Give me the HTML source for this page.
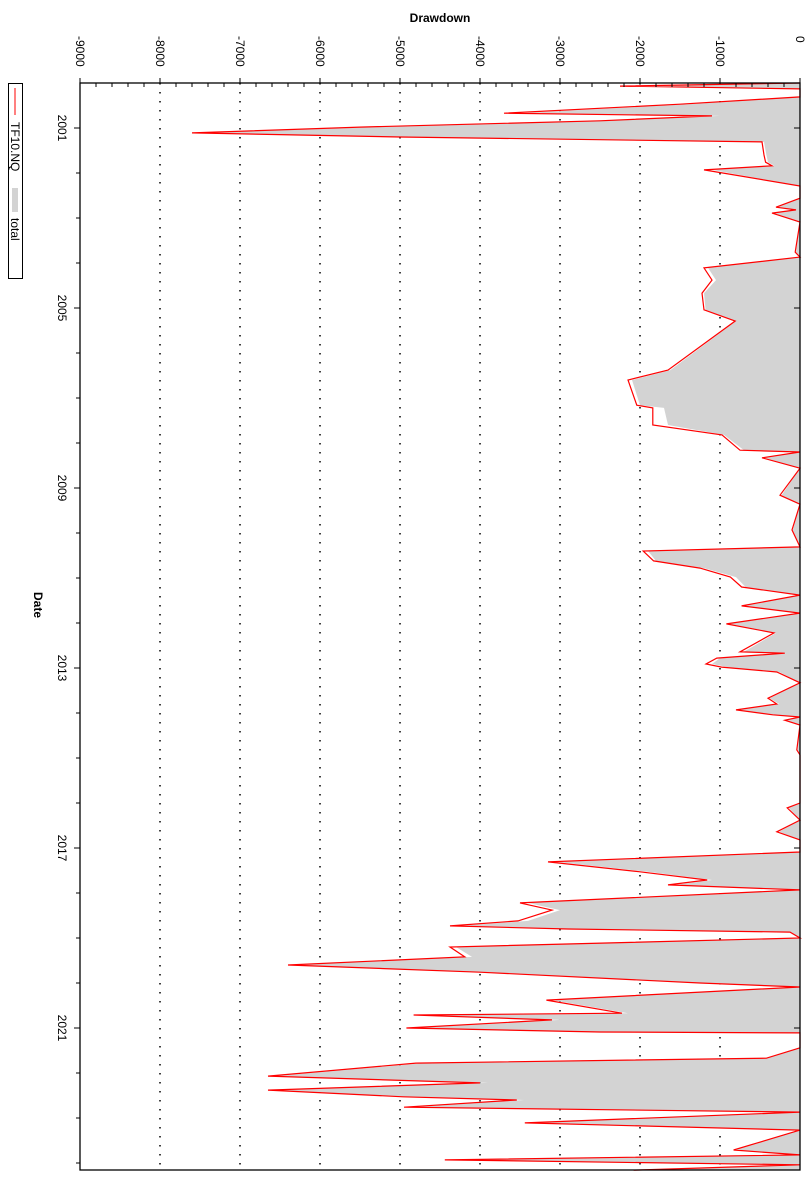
<!DOCTYPE html>
<html><head><meta charset="utf-8"><style>
html,body{margin:0;padding:0;background:#fff;}
svg{display:block;font-family:"Liberation Sans",sans-serif;}
</style></head><body>
<svg id="chart" width="812" height="1200" viewBox="0 0 812 1200" xmlns="http://www.w3.org/2000/svg">
<g id="grid"></g>
<g id="series"></g>
<g id="axes"></g>
<text x="440" y="22" text-anchor="middle" font-size="12" font-weight="bold">Drawdown</text>
<text transform="translate(34,605) rotate(90)" text-anchor="middle" font-size="12" font-weight="bold">Date</text>
<g>
<rect x="8.5" y="83.5" width="14" height="195" fill="#fff" stroke="#000" stroke-width="1"/>
<line x1="15" y1="88" x2="15" y2="115" stroke="#f00" stroke-width="1"/>
<text transform="translate(11,122) rotate(90)" font-size="12" fill="#000">TF10.NQ</text>
<rect x="12" y="188" width="6" height="24" fill="#d3d3d3"/>
<text transform="translate(11,218) rotate(90)" font-size="12" fill="#000">total</text>
</g>
</svg>
<script>
const dates = [2000.00,2000.07,2000.13,2000.31,2000.47,2000.67,2000.73,2000.84,2000.98,2001.11,2001.20,2001.31,2001.60,2001.76,2001.84,2001.93,2002.29,2002.56,2002.76,2002.82,2002.89,2003.09,2003.76,2003.87,2004.11,2004.38,2004.67,2005.04,2005.29,2006.38,2006.60,2007.16,2007.22,2007.60,2007.82,2008.16,2008.20,2008.33,2008.56,2009.16,2009.36,2009.93,2010.31,2010.40,2010.62,2010.78,2010.98,2011.20,2011.38,2011.62,2011.78,2012.02,2012.22,2012.64,2012.67,2012.78,2012.91,2012.98,2013.09,2013.33,2013.67,2013.80,2013.93,2014.04,2014.09,2014.16,2014.27,2014.82,2014.93,2016.00,2016.11,2016.38,2016.64,2016.82,2017.09,2017.31,2017.53,2017.71,2017.82,2017.93,2018.22,2018.38,2018.62,2018.73,2018.80,2018.87,2019.00,2019.20,2019.42,2019.60,2019.76,2020.00,2020.09,2020.38,2020.67,2020.71,2020.82,2021.00,2021.09,2021.11,2021.44,2021.67,2021.78,2022.07,2022.22,2022.38,2022.53,2022.60,2022.76,2022.87,2023.11,2023.27,2023.71,2023.82,2023.93,2024.04,2024.16];
const tf10nq = [0,-2250,0,0,-1500,-3700,-1100,-2500,-5500,-7600,-5000,-475,-450,-430,-350,-1200,0,0,-300,-50,-350,0,-60,0,-1200,-1100,-1225,-1200,-810,-1650,-2150,-2040,-1840,-1840,-975,-750,0,-475,0,-250,0,-100,0,-1960,-1830,-1250,-870,-730,0,-730,0,-920,-325,-750,-190,-1040,-1175,-980,-290,0,-400,-290,-800,-340,0,-190,0,-40,0,0,-160,0,-290,0,0,-3150,-2000,-1160,-1650,0,-3500,-3100,-3525,-4375,-2900,-125,0,-4375,-4190,-6400,-4000,-1250,0,-3170,-2225,-4830,-3100,-4920,-2500,0,0,-420,-4800,-6650,-4000,-6650,-4960,-3540,-4950,0,-3440,0,-830,0,-4440,0,-2080];
const total = [0,-2100,0,0,-1400,-3500,-1000,-2400,-5300,-7500,-4800,-450,-420,-400,-320,-1100,0,0,-280,-40,-320,0,-50,0,-1150,-1050,-1200,-1180,-800,-1620,-2100,-2000,-1700,-1650,-950,-700,0,-440,0,-230,0,-90,0,-1900,-1800,-1200,-800,-680,0,-700,0,-880,-300,-700,-170,-1000,-1100,-900,-260,0,-380,-260,-750,-310,0,-170,0,-30,0,0,-140,0,-260,0,0,-3050,-1900,-1100,-1550,0,-3400,-3000,-3400,-4250,-2800,-110,0,-4300,-4100,-6300,-3900,-1200,0,-3100,-2150,-4750,-3000,-4850,-2400,0,0,-400,-4700,-6550,-3900,-6550,-4900,-3450,-4850,0,-3350,0,-800,0,-4350,0,-2000];
const xTicks = [0,-1000,-2000,-3000,-4000,-5000,-6000,-7000,-8000,-9000];
const yearLabels = [2001,2005,2009,2013,2017,2021];
const NS = "http://www.w3.org/2000/svg";
const L = 80, R = 800, T = 83, B = 1170;
function xs(v){ return R + (v/9000)*(R-L); }
function ys(yr){ return 128 + (yr-2001)*45; }
function mk(tag, attrs, parent){ const e=document.createElementNS(NS,tag); for(const k in attrs) e.setAttribute(k,attrs[k]); parent.appendChild(e); return e; }
const grid=document.getElementById('grid'), ser=document.getElementById('series'), ax=document.getElementById('axes');
xTicks.forEach(v=>{
  if(v===0||v===-9000) return;
  const g=mk('line',{x1:xs(v),x2:xs(v),y1:T,y2:B,stroke:'#000','stroke-width':1.5,'stroke-dasharray':'1.5,7.5'},grid);
  
  
});
let d='M'+xs(0)+','+ys(dates[0]);
dates.forEach((t,i)=>{ d+=' L'+xs(total[i]).toFixed(1)+','+ys(t).toFixed(1); });
d+=' L'+xs(0)+','+ys(dates[dates.length-1]).toFixed(1)+' Z';
const area=mk('path',{d:d,fill:'#d3d3d3',stroke:'none'},ser);


let d2='';
dates.forEach((t,i)=>{ d2+=(i?' L':'M')+xs(tf10nq[i]).toFixed(1)+','+ys(t).toFixed(1); });
const line=mk('path',{d:d2,fill:'none',stroke:'#f00','stroke-width':1.2},ser);


const fr=mk('rect',{x:L,y:T,width:R-L,height:B-T,fill:'none',stroke:'#000','stroke-width':1.3},ax);


for(let v=0; v>=-9000; v-=200){
  const major = v%1000===0;
  const t=mk('line',{x1:xs(v),x2:xs(v),y1:major?T-5:T,y2:major?T:T+4,stroke:'#000','stroke-width':1},ax);
  
  
}
xTicks.forEach(v=>{
  const tx=mk('text',{transform:'translate('+(xs(v)-4)+',36) rotate(90)','font-size':'12','fill':'#000'},ax);
  tx.textContent=String(v);
  
  
});
for(let yr=2001; yr<=2024; yr++){
  const major=yearLabels.includes(yr);
  const t=mk('line',{x1:major?L-6:L-4,x2:L,y1:ys(yr),y2:ys(yr),stroke:'#000','stroke-width':1},ax);
  
  
  if(major){
    const t2=mk('line',{x1:R-6,x2:R,y1:ys(yr),y2:ys(yr),stroke:'#000','stroke-width':1},ax);
    
    
  }
}
yearLabels.forEach(yr=>{
  const tx=mk('text',{transform:'translate(58,'+ys(yr)+') rotate(90)','font-size':'12','text-anchor':'middle','fill':'#000'},ax);
  tx.textContent=String(yr);
  
  
});
</script>
</body></html>
